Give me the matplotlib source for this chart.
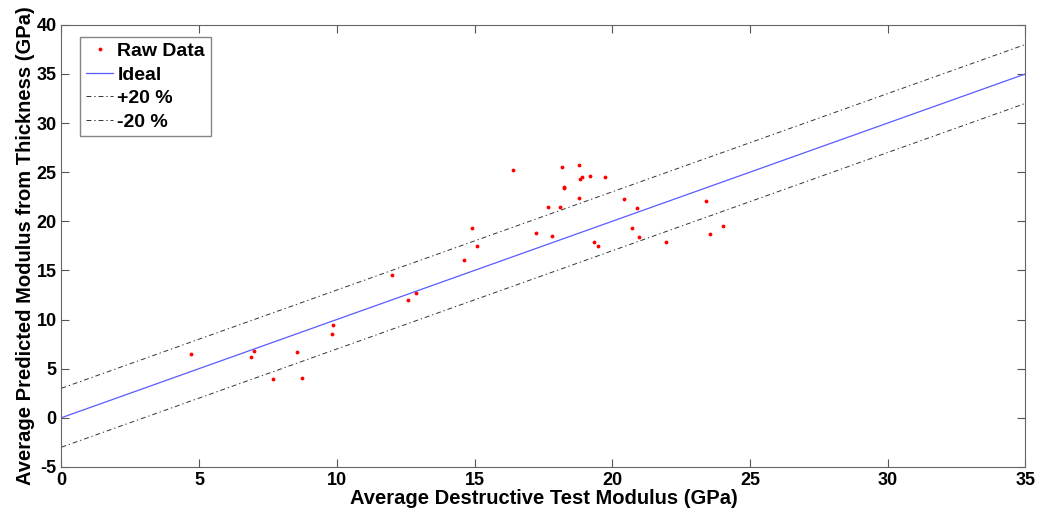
import numpy as np
import matplotlib.pyplot as plt

plt.rcParams['font.family'] = ['Liberation Sans', 'DejaVu Sans']
plt.rcParams['font.weight'] = 'bold'
plt.rcParams['axes.unicode_minus'] = False

dest_mod = [4.7, 7.0, 6.9, 8.55, 7.7, 8.75, 9.87, 9.82,
            12.0, 12.88, 12.6, 14.63, 14.92, 15.09,
            16.39, 17.24, 17.8, 17.66, 18.09, 18.18, 18.81, 18.91, 18.83,
            19.2, 19.72, 18.23, 18.26, 18.79, 20.44, 20.89, 20.72, 20.96,
            19.33, 19.48, 21.95, 23.39, 24.01, 23.55]
pred_mod = [6.5, 6.77, 6.16, 6.7, 3.99, 4.05, 9.42, 8.57,
            14.54, 12.74, 11.97, 16.07, 19.3, 17.46,
            25.23, 18.79, 18.51, 21.5, 21.43, 25.57, 25.71, 24.55, 24.29,
            24.62, 24.55, 23.53, 23.43, 22.35, 22.25, 21.36, 19.3, 18.45,
            17.87, 17.5, 17.94, 22.05, 19.5, 18.68]

x_line = np.array([0, 35])
band = 3  # +/- offset of the 20 % lines

fig, ax = plt.subplots(figsize=(10.41, 5.17), dpi=100)
fig.subplots_adjust(left=0.059, right=0.985, top=0.952, bottom=0.097)

dashdot = (0, (5, 3, 1.4, 3))
ax.plot(dest_mod, pred_mod, '.', color='red', markersize=3.5, label='Raw Data')
ax.plot(x_line, x_line, color='#5a5aff', linewidth=0.9, label='Ideal')
ax.plot(x_line, x_line + band, color='#333333', linestyle=dashdot, linewidth=0.7, label='+20 %')
ax.plot(x_line, x_line - band, color='#333333', linestyle=dashdot, linewidth=0.7, label='-20 %')

ax.set_xlim(0, 35)
ax.set_ylim(-5, 40)
ax.set_xticks(np.arange(0, 36, 5))
ax.set_yticks(np.arange(-5, 41, 5))
ax.tick_params(direction='in', top=True, right=True, labelsize=13, length=6, color='#555555')
for lab in ax.get_xticklabels() + ax.get_yticklabels():
    lab.set_fontweight('bold')
for sp in ax.spines.values():
    sp.set_color('#666666')

ax.set_xlabel('Average Destructive Test Modulus (GPa)', fontsize=14.5, fontweight='bold', labelpad=0)
ax.set_ylabel('Average Predicted Modulus from Thickness (GPa)', fontsize=14.5, fontweight='bold', labelpad=1)

leg = ax.legend(loc='upper left', bbox_to_anchor=(0.0197, 0.973), borderaxespad=0,
                fontsize=14, fancybox=False, edgecolor='#666666',
                handlelength=1.4, handletextpad=0.2, borderpad=0.3, labelspacing=0.3,
                markerscale=1)
for t in leg.get_texts():
    t.set_fontweight('bold')

fig.savefig('out.png', dpi=100)
